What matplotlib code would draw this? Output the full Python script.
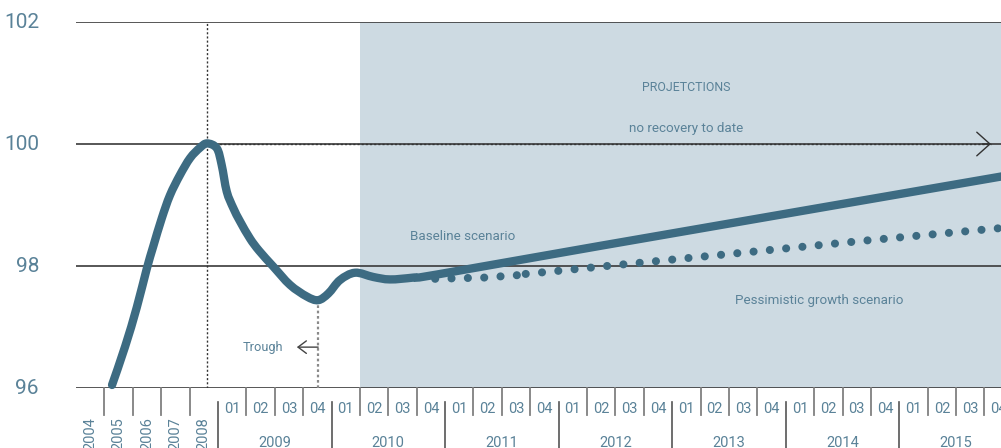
import matplotlib
matplotlib.use("Agg")
import matplotlib.pyplot as plt
from matplotlib import font_manager as fm
from matplotlib.path import Path
from matplotlib.patches import PathPatch
import numpy as np

# ---------------- data ----------------
annual_labels = ["2004", "2005", "2006", "2007", "2008"]
quarter_years = ["2009", "2010", "2011", "2012", "2013", "2014", "2015"]
quarter_labels = ["01", "02", "03", "04"]
y_ticks = [96, 98, 100, 102]

# slot positions (one slot per year 2004-2008, then one per quarter)
actual_x = [1.27, 1.73, 2.14, 2.49, 2.72, 3.02, 3.31, 3.66, 4.02, 4.37, 4.62, 4.96,
            5.13, 5.31, 5.54, 5.78, 6.13, 6.45, 6.95, 7.54, 8.13, 8.53, 8.89, 9.30,
            9.83, 10.47, 11.06, 11.88, 12.71]
actual_v = [96.05, 96.68, 97.32, 97.95, 98.32, 98.78, 99.16, 99.49, 99.77, 99.94, 100.01, 99.93,
            99.66, 99.22, 98.95, 98.73, 98.45, 98.25, 97.99, 97.69, 97.50, 97.44, 97.55, 97.77,
            97.89, 97.82, 97.78, 97.81, 97.86]

baseline_x = [12.71, 18.46, 33.0]
baseline_v = [97.86, 98.33, 99.50]

# pessimistic scenario, drawn in two dotted pieces as in the source
pess1_x = [12.65, 14.37, 15.56]
pess1_v = [97.79, 97.81, 97.85]
pess2_x = [15.84, 16.98, 18.70, 23.30, 27.88, 33.0]
pess2_v = [97.87, 97.92, 98.00, 98.21, 98.42, 98.64]

projection_start = 10  # 2010 Q2

# ---------------- style ----------------
LINE = "#3d6b82"
TEXT = "#5a8298"
SHADE = "#cddae2"
GRID = "#3a3a3a"
TICK = "#808080"

names = {f.name for f in fm.fontManager.ttflist}
narrow = "Liberation Sans Narrow" if "Liberation Sans Narrow" in names else "Roboto"
digits = "Roboto" if "Roboto" in names else "DejaVu Sans"
LBL = 9.6 if narrow == "Roboto" else 10.5


def smooth_path(xs, ys):
    """Cubic Bezier path passing through the given points (Catmull-Rom)."""
    p = np.column_stack([xs, ys]).astype(float)
    n = len(p)
    verts = [p[0]]
    codes = [Path.MOVETO]
    for i in range(n - 1):
        p0 = p[i - 1] if i > 0 else p[i]
        p1, p2 = p[i], p[i + 1]
        p3 = p[i + 2] if i + 2 < n else p[i + 1]
        c1 = p1 + (p2 - p0) / 6.0
        c2 = p2 - (p3 - p1) / 6.0
        verts += [c1, c2, p2]
        codes += [Path.CURVE4] * 3
    return Path(verts, codes)


W, H = 1001, 448
fig = plt.figure(figsize=(W / 100, H / 100), dpi=100)
n_slots = len(annual_labels) + 4 * len(quarter_years)
slot_px = 28.39
ax = fig.add_axes([76 / W, 60 / H, n_slots * slot_px / W, 366 / H])
ax.set_xlim(0, n_slots)
ax.set_ylim(y_ticks[0], y_ticks[-1])
for s in ax.spines.values():
    s.set_visible(False)
ax.set_xticks([])
ax.set_yticks([])
ax.patch.set_alpha(0)

# shading for projections
ax.axvspan(projection_start, n_slots, color=SHADE, lw=0, zorder=0)

# gridlines
for v in y_ticks:
    ax.axhline(v, color=GRID, lw=1.2, zorder=1)
    ax.text(-37 / (n_slots * slot_px), v, str(v), transform=ax.get_yaxis_transform(),
            ha="right", va="center", fontsize=15, color=TEXT, family=digits)

# peak / trough markers
i_peak = int(np.argmax(actual_v))
peak_x, peak_v = actual_x[i_peak], actual_v[i_peak]
i_tr = int(np.argmin(actual_v[i_peak:])) + i_peak
tr_x, tr_v = actual_x[i_tr], actual_v[i_tr]

ax.plot([peak_x - 0.02, peak_x - 0.02], [y_ticks[0], y_ticks[-1]], color="#333333", lw=1.0,
        ls=(0, (1.5, 1.5)), zorder=2)
ax.plot([tr_x, tr_x], [y_ticks[0], tr_v], color="#8a8a8a", lw=1.6,
        ls=(0, (1.2, 1.2)), zorder=2)

# no recovery dotted arrow
arrow_end = 32.23
ax.plot([peak_x, arrow_end], [100, 100], color="#333333", lw=1.0,
        ls=(0, (1.5, 1.5)), zorder=2)
ax.annotate("", xy=(arrow_end, 100), xytext=(arrow_end - 0.3, 100),
            arrowprops=dict(arrowstyle="->,head_length=0.95,head_width=0.85",
                            color="#333333", lw=1.0, shrinkA=0, shrinkB=0), zorder=2)

# trough arrow
trough_y = 96.67
ax.annotate("", xy=(7.78, trough_y), xytext=(tr_x, trough_y),
            arrowprops=dict(arrowstyle="->,head_length=0.6,head_width=0.45",
                            color="#444444", lw=1.0, shrinkA=0, shrinkB=0), zorder=2)
ax.text(7.29, trough_y, "Trough", ha="right", va="center", fontsize=LBL * 0.96,
        color=TEXT, family=narrow)

# lines
line_x = actual_x + baseline_x[1:]
line_v = actual_v + baseline_v[1:]
ax.add_patch(PathPatch(smooth_path(line_x, line_v), fill=False, edgecolor=LINE,
                       lw=6.0, capstyle="round", joinstyle="round", zorder=3,
                       clip_on=False))
for px_, pv_ in ((pess1_x, pess1_v), (pess2_x, pess2_v)):
    ax.plot(px_, pv_, color=LINE, lw=5.8, ls=(0, (0.01, 2.02)),
            dash_capstyle="round", zorder=3)

# texts
ax.text(21.49, 100.92, "PROJETCTIONS", ha="center", va="center", fontsize=LBL * 0.93,
        color=TEXT, family=narrow)
ax.text(21.49, 100.26, "no recovery to date", ha="center", va="center", fontsize=LBL,
        color=TEXT, family=narrow)
ax.text(13.63, 98.49, "Baseline scenario", ha="center", va="center", fontsize=LBL,
        color=TEXT, family=narrow)
ax.text(26.17, 97.43, "Pessimistic growth scenario", ha="center", va="center",
        fontsize=LBL, color=TEXT, family=narrow)

# ---------------- custom x axis ----------------
tr = ax.get_xaxis_transform()


def yf(px):
    return (388 - px) / 366.0


na = len(annual_labels)
for i, lab in enumerate(annual_labels):
    ax.text(i + 0.5, yf(417), lab, transform=tr, rotation=90, ha="center", va="top",
            fontsize=10.5, color=TEXT, family=digits, clip_on=False)
    if i >= 1:
        ax.plot([i, i], [yf(388), yf(415)], transform=tr, color=TICK, lw=1.3,
                clip_on=False)

for j, yr in enumerate(quarter_years):
    start = na + 4 * j
    ax.plot([start, start], [yf(402), yf(460)], transform=tr, color="#555555", lw=1.2,
            clip_on=False)
    for q, ql in enumerate(quarter_labels):
        ax.text(start + q + 0.5, yf(409), ql, transform=tr, ha="center", va="center",
                fontsize=10.5, color=TEXT, family=digits, clip_on=False)
        if q >= 1:
            ax.plot([start + q, start + q], [yf(388), yf(415)], transform=tr,
                    color=TICK, lw=1.3, clip_on=False)
    ax.text(start + 2, yf(436), yr, transform=tr, ha="center", va="top",
            fontsize=10.5, color=TEXT, family=digits, clip_on=False)

fig.savefig("out.png", dpi=100)
